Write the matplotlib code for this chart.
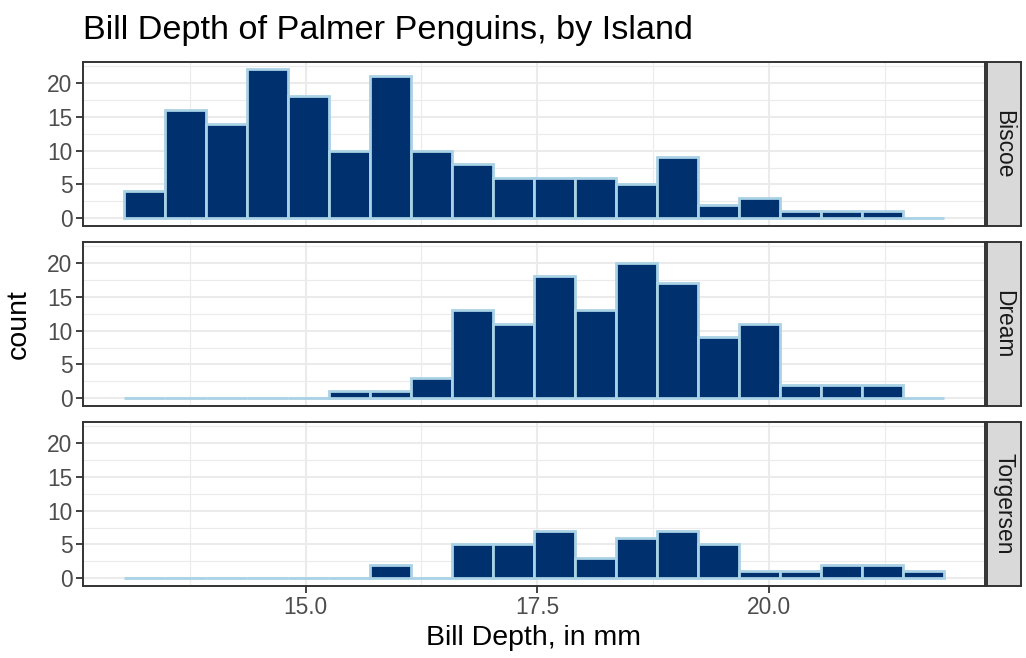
import numpy as np
import matplotlib.pyplot as plt

plt.rcParams['font.family'] = ['Liberation Sans', 'DejaVu Sans']

# penguin bill depth, binned like ggplot's geom_histogram(bins = 20)
islands = ["Biscoe", "Dream", "Torgersen"]
depth_min, depth_max = 13.1, 21.5
n_bins = 20
counts = {
    "Biscoe":    [4, 16, 14, 22, 18, 10, 21, 10, 8, 6, 6, 6, 5, 9, 2, 3, 1, 1, 1, 0],
    "Dream":     [0, 0, 0, 0, 0, 1, 1, 3, 13, 11, 18, 13, 20, 17, 9, 11, 2, 2, 2, 0],
    "Torgersen": [0, 0, 0, 0, 0, 0, 2, 0, 5, 5, 7, 3, 6, 7, 5, 1, 1, 2, 2, 1],
}
x_ticks = [15.0, 17.5, 20.0]
y_ticks = [0, 5, 10, 15, 20]

# bin edges the way ggplot computes them
width = (depth_max - depth_min) / (n_bins - 1)
boundary = width / 2
origin = boundary + np.floor((depth_min - boundary) / width) * width
edges = origin + width * np.arange(n_bins + 1)

W, H = 1026, 658
fig = plt.figure(figsize=(W / 100, H / 100), dpi=100)

fill = "#00306E"
outline = "#A9D2E6"
grid = "#EBEBEB"
dark = "#333333"

left, right = 83, 985
panel_tops = [62, 242, 422]
panel_h = 163.7

xlo = edges[0] - 0.05 * (edges[-1] - edges[0])
xhi = edges[-1] + 0.05 * (edges[-1] - edges[0])
ymax = max(max(c) for c in counts.values())

for i, isl in enumerate(islands):
    top = panel_tops[i]
    ax = fig.add_axes([left / W, 1 - (top + panel_h) / H, (right - left) / W, panel_h / H])
    ax.bar(edges[:-1], counts[isl], width=width, align='edge',
           color=fill, edgecolor=outline, linewidth=2.0, zorder=3)
    ax.set_xlim(xlo, xhi)
    ax.set_ylim(-0.05 * ymax, ymax * 1.05)
    ax.set_xticks(x_ticks)
    ax.set_xticks([13.75, 16.25, 18.75, 21.25], minor=True)
    ax.set_yticks(y_ticks)
    ax.set_yticks([2.5, 7.5, 12.5, 17.5, 22.5], minor=True)
    ax.grid(which='major', color=grid, linewidth=1.5, zorder=0)
    ax.grid(which='minor', color=grid, linewidth=0.8, zorder=0)
    ax.set_axisbelow(True)
    for s in ax.spines.values():
        s.set_color(dark)
        s.set_linewidth(1.4)
    ax.tick_params(which='major', length=5, width=1.3, color=dark,
                   labelcolor="#4D4D4D", labelsize=16.4, pad=2.5)
    ax.tick_params(which='minor', length=0)
    if i < 2:
        ax.tick_params(axis='x', which='major', bottom=False, labelbottom=False)
    else:
        ax.set_xticklabels([f"{t:.1f}" for t in x_ticks])

    # facet strip on the right
    sx = fig.add_axes([987 / W, 1 - (top + panel_h) / H, 34 / W, panel_h / H])
    sx.set_facecolor("#D9D9D9")
    sx.set_xticks([])
    sx.set_yticks([])
    for s in sx.spines.values():
        s.set_color(dark)
        s.set_linewidth(1.4)
    sx.text(0.5, 0.5, isl, rotation=-90, ha='center', va='center',
            fontsize=16.4, color="#1A1A1A", transform=sx.transAxes)

fig.text(left / W, 1 - 39 / H, "Bill Depth of Palmer Penguins, by Island",
         fontsize=24.7, ha='left', va='baseline', color='black')
fig.text((left + right) / 2 / W, 1 - 645 / H, "Bill Depth, in mm",
         fontsize=20.5, ha='center', va='baseline', color='black')
fig.text(19 / W, 1 - 324 / H, "count", fontsize=20.5, rotation=90,
         ha='center', va='center', color='black')

fig.savefig("out.png", dpi=100)
